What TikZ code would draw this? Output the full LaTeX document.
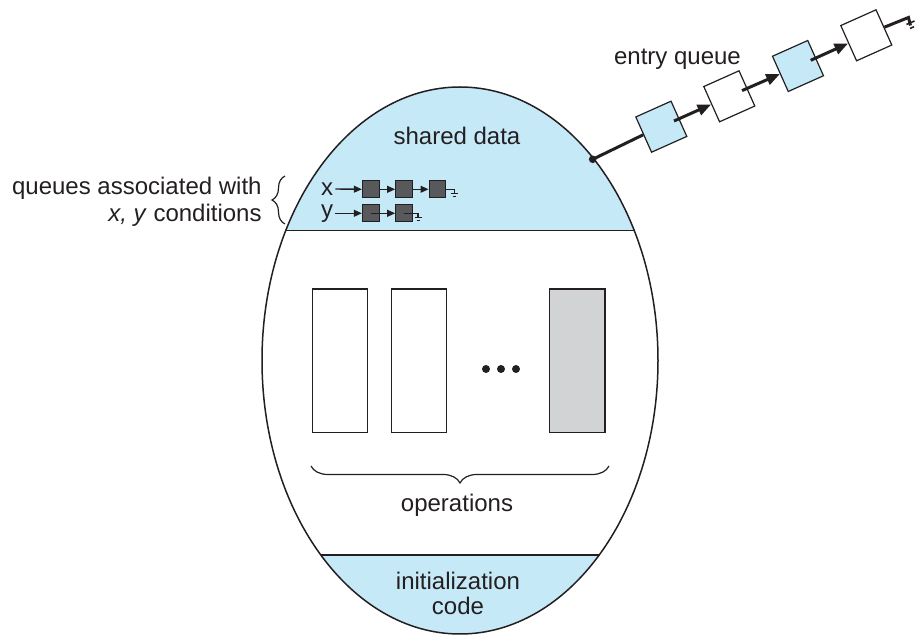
\documentclass[tikz,border=0pt]{standalone}
\usepackage{fontspec}
\setmainfont{Liberation Sans}
\usetikzlibrary{arrows.meta,decorations.pathreplacing,calc}
\definecolor{qblue}{RGB}{198,233,248}
\definecolor{opgray}{RGB}{209,211,212}
\definecolor{qdark}{RGB}{88,89,91}
\definecolor{ink}{RGB}{35,31,32}
\begin{document}
\begin{tikzpicture}[x=0.5pt,y=-0.5pt,
  font=\fontsize{12}{12.5}\selectfont,
  lbl/.style={inner sep=0pt, text=ink},
  ebox/.style={draw=ink, line width=0.6pt, minimum size=19.3pt, inner sep=0pt, rotate=24.1},
  sbox/.style={draw=ink, fill=qdark, line width=0.5pt, minimum size=8.3pt, inner sep=0pt},
  opbox/.style={draw=ink, line width=0.6pt, minimum width=27.5pt, minimum height=71.6pt, inner sep=0pt},
  earrow/.style={draw=ink, line width=1.5pt, -{Triangle[length=6.8pt,width=5.5pt]}},
  sarrow/.style={draw=ink, line width=0.7pt, -{Triangle[length=4pt,width=3.4pt]}},
  gline/.style={draw=ink, line width=0.5pt},
]
\useasboundingbox (0,0) rectangle (917,635);
% monitor ellipse
\coordinate (C) at (460,360.5);
\begin{scope}
  \clip (C) ellipse [x radius=198, y radius=273.5];
  \fill[qblue] (250,80) rectangle (670,230.7);
  \fill[qblue] (250,555) rectangle (670,640);
  \draw[ink, line width=0.7pt] (250,230.7) -- (670,230.7);
  \draw[ink, line width=0.7pt] (250,555) -- (670,555);
\end{scope}
\draw[ink, line width=0.75pt] (C) ellipse [x radius=198, y radius=273.5];

% texts in ellipse
\node[lbl, anchor=base] (shared) at (457,144.3) {shared data};
\node[lbl, align=center, anchor=base] (init) at (458,615) {initialization\\code};
\node[lbl, anchor=base] (ops) at (457,512) {operations};

% operation boxes
\node[opbox, fill=white] (op1) at (339.8,360.7) {};
\node[opbox, fill=white] (op2) at (419.2,360.7) {};
\node[opbox, fill=opgray, minimum width=27.8pt] (op3) at (577.2,360.7) {};
\fill[ink] (486,369) circle (4) (501,369) circle (4) (516,369) circle (4);
\draw[ink, line width=0.6pt, decorate, decoration={brace, amplitude=8.5pt}] (609,466) -- (311,466);

% condition queues
\node[lbl, anchor=east, align=right, font=\fontsize{12}{13.5}\selectfont] (qlabel) at (262,201.5) {queues associated with\\\textit{x, y} conditions};
\draw[ink, line width=0.6pt, decorate, decoration={brace, amplitude=6.5pt}] (285,224) -- (285,176);
\node[lbl] (xl) at (327,189) {x};
\node[lbl] (yl) at (327,213.7) {y};
\node[sbox] (xb1) at (370.7,189.3) {};
\node[sbox] (xb2) at (404,189.3) {};
\node[sbox] (xb3) at (437.4,189.3) {};
\node[sbox] (yb1) at (370.7,213.3) {};
\node[sbox] (yb2) at (404,213.3) {};
\draw[sarrow] ([xshift=1pt]xl.east) -- (xb1.west);
\draw[sarrow] (xb1.east) -- (xb2.west);
\draw[sarrow] (xb2.east) -- (xb3.west);
\draw[sarrow] ([xshift=1pt]yl.east |- yb1.west) -- (yb1.west);
\draw[sarrow] (yb1.center) -- (yb2.west);
\draw[ink, line width=0.7pt] (xb3.east) -- ++(8,0) -- ++(0,4);
\draw[gline] ($(xb3.east)+(4.5,4)$) -- ++(7,0) ($(xb3.east)+(6.5,7)$) -- ++(3,0);
\draw[ink, line width=0.7pt] (yb2.center) -- ++(14,0) -- ++(0,4);
\draw[gline] ($(yb2.center)+(10.5,4)$) -- ++(7,0) ($(yb2.center)+(12.5,7)$) -- ++(3,0);

% entry queue
\node[lbl, anchor=base] (entry) at (677.5,64.3) {entry queue};
\node[circle, fill=ink, inner sep=0pt, minimum size=3.8pt] (dot) at (592.7,159.3) {};
\node[ebox, fill=qblue] (e1) at (661.3,126.7) {};
\node[ebox, fill=white] (e2) at (729.3,96.3) {};
\node[ebox, fill=qblue] (e3) at (798,66) {};
\node[ebox, fill=white] (e4) at (866.3,35.3) {};
\draw[ink, line width=1.5pt] (dot.center) -- (e1.west);
\draw[earrow] ($(e1.center)!0.7!(e1.east)$) -- (e2.west);
\draw[earrow] ($(e2.center)!0.7!(e2.east)$) -- (e3.west);
\draw[earrow] ($(e3.center)!0.7!(e3.east)$) -- (e4.west);
\coordinate (g) at (908.5,17.5);
\draw[ink, line width=1.5pt] (e4.east) -- (g) -- ++(2,8);
\draw[gline, line width=0.8pt] ($(g)+(-2,7)$) -- ++(8,-3.5) ($(g)+(1.5,11)$) -- ++(4,-1.8);
\end{tikzpicture}
\end{document}
